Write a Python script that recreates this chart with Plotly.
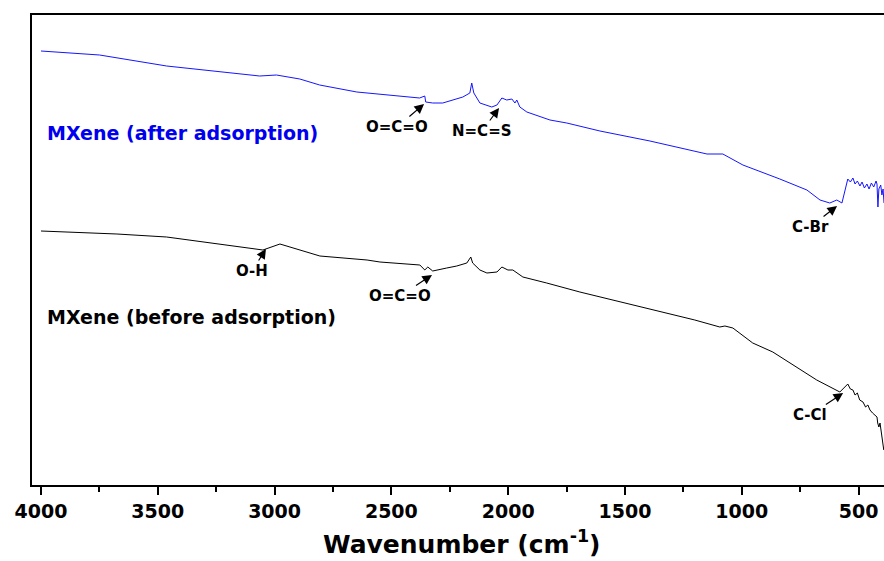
import plotly.graph_objects as go

# ---- data (wavenumber in cm^-1, intensity in arbitrary units) ----
after_wn = [4000, 3749, 3462, 3064, 2992, 2892, 2807, 2648, 2379, 2357, 2353, 2323, 2280,
            2194, 2164, 2156, 2147, 2121, 2070, 2048, 2027, 2006, 1984, 1971, 1963, 1950,
            1920, 1821, 1749, 1607, 1393, 1320, 1149, 1081, 995, 837, 721, 665, 623, 593,
            571, 546, 535, 524, 515, 505, 494, 485, 475, 464, 455, 445, 435, 425, 421, 417,
            413, 405, 400, 395, 391]
after_au = [434, 430, 419, 409, 410, 406, 400, 393, 387, 389, 383, 382, 382,
            388, 392, 402, 392, 382, 378, 380, 387, 385, 386, 382, 385, 378,
            373, 365, 362, 354, 344, 340, 331, 331, 320, 306, 295, 285, 282, 285,
            282, 306, 303, 307, 301, 304, 299, 303, 297, 301, 296, 302, 298, 304, 301, 278,
            296, 300, 290, 296, 282]

before_wn = [4000, 3675, 3462, 3050, 2977, 2806, 2604, 2549, 2378, 2357, 2344, 2323, 2263,
             2220, 2177, 2160, 2152, 2121, 2091, 2048, 2027, 2001, 1980, 1963, 1937, 1835,
             1693, 1201, 1094, 1072, 1038, 953, 867, 679, 580, 546, 535, 524, 515, 505, 495,
             481, 470, 460, 451, 440, 430, 421, 418, 413, 408, 400, 396, 392]
before_au = [254, 251, 248, 235, 241, 229, 225, 223, 220, 215, 218, 214, 217,
             219, 222, 228, 222, 215, 212, 213, 218, 215, 215, 212, 208, 202,
             193, 165, 158, 159, 157, 142, 133, 105, 93, 101, 96, 95, 90, 92, 85,
             83, 78, 80, 75, 72, 70, 68, 62, 58, 62, 48, 40, 35]

x_ticks = [4000, 3500, 3000, 2500, 2000, 1500, 1000, 500]
x_ticktext = ["4000", "3500", "3000", "2500", "2000", "1500", "1000", "500"]

series_labels = ["MXene (after adsorption)", "MXene (before adsorption)"]
# peak labels: text, arrow head (wn, au) and label offset from the head
peak_text = ["O=C=O", "N=C=S", "C-Br", "O-H", "O=C=O", "C-Cl"]
peak_head_wn = [2360, 2039, 592, 3037, 2326, 566]
peak_head_au = [381, 377, 279, 236, 210, 92]
peak_dx = [-27, -17, -27, -14, -32, -33]
peak_dy = [23, 23, 21, 22, 21, 22]

FONT = "DejaVu Sans"

fig = go.Figure()
fig.add_trace(go.Scatter(x=after_wn, y=after_au, mode="lines",
                         line=dict(color="#1515ff", width=1), showlegend=False))
fig.add_trace(go.Scatter(x=before_wn, y=before_au, mode="lines",
                         line=dict(color="black", width=1), showlegend=False))

annotations = [
    dict(x=3984, y=352, xref="x", yref="y", text=series_labels[0], showarrow=False,
         xanchor="left", yanchor="middle",
         font=dict(family=FONT, size=19, color="#0000ee", weight="bold")),
    dict(x=3984, y=168, xref="x", yref="y", text=series_labels[1], showarrow=False,
         xanchor="left", yanchor="middle",
         font=dict(family=FONT, size=19, color="black", weight="bold")),
    dict(x=0.5047, y=-0.1617, xref="paper", yref="paper",
         text="Wavenumber (cm<sup>-1</sup>)", showarrow=False,
         xanchor="center", yanchor="bottom",
         font=dict(family=FONT, size=25, color="black", weight="bold")),
]
for t, hx, hy, dx, dy in zip(peak_text, peak_head_wn, peak_head_au, peak_dx, peak_dy):
    annotations.append(dict(x=hx, y=hy, xref="x", yref="y", text=t, showarrow=True,
                            ax=dx, ay=dy, arrowhead=2, arrowsize=1.6, arrowwidth=1.2,
                            arrowcolor="black", standoff=0, startstandoff=0,
                            font=dict(family=FONT, size=15, color="black", weight="bold")))

fig.update_layout(
    width=884, height=561,
    margin=dict(l=32, r=0, t=15, b=76),
    paper_bgcolor="white", plot_bgcolor="white",
    annotations=annotations,
    xaxis=dict(range=[4038.5, 391], autorange=False,
               tickvals=x_ticks, ticktext=x_ticktext,
               ticks="outside", ticklen=8, tickwidth=2, tickcolor="black",
               minor=dict(dtick=250, tick0=0, ticks="outside", ticklen=5,
                          tickwidth=2, tickcolor="black"),
               showline=True, linewidth=2, linecolor="black", mirror=True,
               showgrid=False, zeroline=False,
               tickfont=dict(family=FONT, size=19, color="black", weight="bold")),
    yaxis=dict(range=[0, 470], autorange=False, showticklabels=False, ticks="",
               showline=True, linewidth=2, linecolor="black", mirror=False,
               showgrid=False, zeroline=False),
)

fig.write_html("out.html")
